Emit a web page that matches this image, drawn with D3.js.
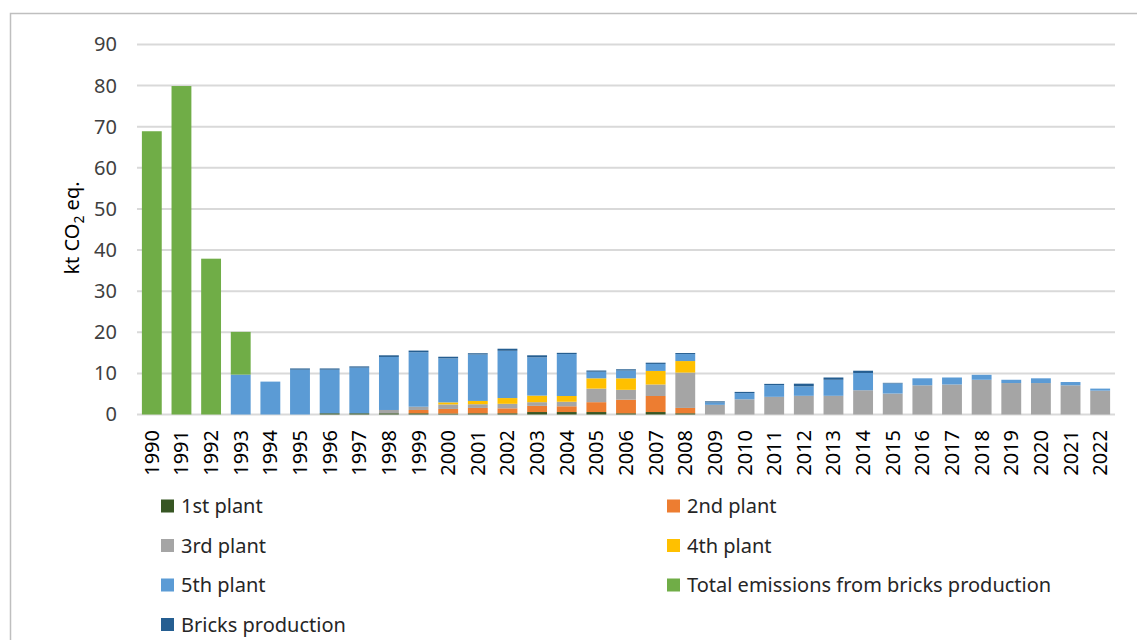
<!DOCTYPE html>
<html><head><meta charset="utf-8">
<script src="https://cdn.jsdelivr.net/npm/d3@7"></script>
<style>
html,body{margin:0;padding:0;background:#fff;}
svg{display:block;font-family:"Noto Sans","Open Sans",sans-serif;}
</style></head>
<body>
<svg id="c" width="1137" height="640"></svg>
<script>
const years = d3.range(1990, 2023).map(String);
const seriesNames = ["1st plant","2nd plant","3rd plant","4th plant","5th plant","Total emissions from bricks production","Bricks production"];
const seriesColors = ["#375623","#ED7D31","#A5A5A5","#FFC000","#5B9BD5","#70AD47","#255E91"];
//                 1990 91  92  93  94  95  96  97  98  99  00   01  02  03  04  05  06  07  08  09  10  11  12  13  14  15  16  17  18  19  20  21  22
const plant1  = [0,0,0,0,0,0,0.3,0.3,0.3,0.3,0.25,0.3,0.3,0.6,0.6,0.6,0.3,0.6,0.3,0,0,0,0,0,0,0,0,0,0,0,0,0,0];
const plant2  = [0,0,0,0,0,0,0,0,0,0.8,1.1,1.3,1.2,1.5,1.4,2.4,3.3,3.9,1.3,0,0,0,0,0,0,0,0,0,0,0,0,0,0];
const plant3  = [0,0,0,0,0,0,0,0,0.8,0.8,1.1,0.9,1.1,0.9,1.1,3.3,2.4,2.8,8.6,2.35,3.7,4.3,4.55,4.55,5.9,5.1,7.1,7.3,8.45,7.65,7.65,7.1,5.8];
const plant4  = [0,0,0,0,0,0,0,0,0,0,0.5,0.8,1.4,1.6,1.4,2.5,2.8,3.3,2.8,0,0,0,0,0,0,0,0,0,0,0,0,0,0];
const plant5  = [0,0,0,9.7,8.0,10.9,10.6,11.1,12.9,13.25,10.7,11.3,11.5,9.3,10.2,1.6,1.9,1.7,1.7,0.6,1.5,2.85,2.3,3.9,4.2,2.45,1.7,1.7,1.2,0.8,1.15,0.8,0.5];
const totalBricks = [68.9,79.9,37.9,10.4,0,0,0,0,0,0,0,0,0,0,0,0,0,0,0,0,0,0,0,0,0,0,0,0,0,0,0,0,0];
const bricksProd  = [0,0,0,0,0,0.3,0.3,0.3,0.4,0.4,0.4,0.3,0.5,0.5,0.3,0.3,0.3,0.3,0.25,0.25,0.3,0.3,0.65,0.55,0.55,0.15,0,0,0,0,0,0,0];
const yTicks = [0,10,20,30,40,50,60,70,80,90];

const seriesValues = [plant1,plant2,plant3,plant4,plant5,totalBricks,bricksProd];
const keys = seriesNames;
const table = years.map((y,i)=>{const o={year:y}; keys.forEach((k,j)=>o[k]=seriesValues[j][i]); return o;});
const stack = d3.stack().keys(keys)(table);

const svg = d3.select("#c");
const textColor = "#404040";

// chart frame
svg.append("path").attr("d","M10.5,640 L10.5,13.5 L1137,13.5").attr("fill","none").attr("stroke","#bfbfbf").attr("stroke-width",1.5);

const x = d3.scaleBand().domain(years).range([137,1115]).paddingInner(0.33).paddingOuter(0.165);
const y = d3.scaleLinear().domain([0,90]).range([414.5,44.5]);

// gridlines
svg.append("g").selectAll("line").data(yTicks).join("line")
  .attr("x1",137).attr("x2",1115)
  .attr("y1",d=>y(d)).attr("y2",d=>y(d))
  .attr("stroke","#d9d9d9").attr("stroke-width",2);

// y axis labels
const yAxis = svg.append("g").attr("transform","translate(117,0)")
  .call(d3.axisLeft(y).tickValues(yTicks).tickSize(0).tickPadding(0));
yAxis.select(".domain").remove();
yAxis.selectAll("text").attr("x",0).attr("font-size",20).attr("fill",textColor)
  .attr("font-family","'Noto Sans',sans-serif").attr("text-anchor","end");

// y axis title
const yt = svg.append("text").attr("transform","translate(79,228) rotate(-90)")
  .attr("text-anchor","middle").attr("font-size",20).attr("fill","#000");
yt.append("tspan").text("kt CO");
yt.append("tspan").text("2").attr("font-size",14).attr("dy",5);
yt.append("tspan").text(" eq.").attr("dy",-5);

// bars
svg.append("g").selectAll("g").data(stack).join("g")
  .attr("fill",(d,i)=>seriesColors[i])
  .selectAll("rect").data(d=>d).join("rect")
  .attr("x",d=>x(d.data.year))
  .attr("width",x.bandwidth())
  .attr("y",d=>y(d[1]))
  .attr("height",d=>Math.max(0,y(d[0])-y(d[1])));

// x axis labels
const xAxis = svg.append("g").attr("transform","translate(0,430)")
  .call(d3.axisBottom(x).tickSize(0).tickPadding(0));
xAxis.select(".domain").remove();
xAxis.selectAll("text")
  .attr("font-size",20).attr("fill","#000").attr("font-family","'Noto Sans',sans-serif")
  .attr("text-anchor","end").attr("dy","0.35em").attr("y",0).attr("x",0)
  .attr("transform","rotate(-90)");

// legend
const legX = [161,667];
const legY = [506,545.5,585,624.5];
const leg = svg.append("g").selectAll("g").data(seriesNames).join("g")
  .attr("transform",(d,i)=>`translate(${legX[i%2]},${legY[Math.floor(i/2)]})`);
leg.append("rect").attr("x",0).attr("y",-6.5).attr("width",13).attr("height",13)
  .attr("fill",(d,i)=>seriesColors[i]);
leg.append("text").attr("x",20).attr("y",0).attr("dy","0.35em")
  .attr("font-size",20).attr("fill","#262626").text(d=>d);
</script>
</body></html>
